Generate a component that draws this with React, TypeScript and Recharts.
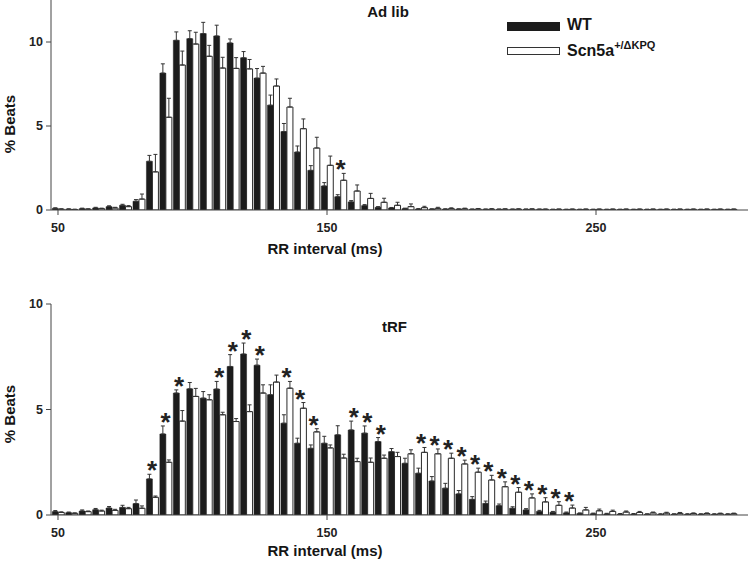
import React from 'react';
import { ComposedChart, Bar, Line, XAxis, YAxis, ErrorBar, Legend } from 'recharts';

const FONT = '"Liberation Sans", Arial, Helvetica, sans-serif';

// RR interval bins (ms)
const bins = [
  50, 55, 60, 65, 70, 75, 80, 85, 90, 95,
  100, 105, 110, 115, 120, 125, 130, 135, 140, 145,
  150, 155, 160, 165, 170, 175, 180, 185, 190, 195,
  200, 205, 210, 215, 220, 225, 230, 235, 240, 245,
  250, 255, 260, 265, 270, 275, 280, 285, 290, 295,
  300,
];

// Ad lib panel
const adLibWT = [
  0.10, 0.05, 0.08, 0.12, 0.20, 0.28, 0.52, 2.90, 8.15, 10.1,
  10.2, 10.5, 10.36, 9.94, 9.06, 7.85, 6.24, 4.67, 3.45, 2.36,
  1.43, 0.79, 0.48, 0.26, 0.16, 0.12, 0.08, 0.06, 0.05, 0.05,
  0.05, 0.04, 0.04, 0.04, 0.04, 0.04, 0.04, 0.03, 0.03, 0.03,
  0.03, 0.03, 0.03, 0.03, 0.03, 0.03, 0.03, 0.03, 0.03, 0.03,
  0.03,
];
const adLibWTErr = [
  0.03, 0.02, 0.03, 0.04, 0.05, 0.06, 0.10, 0.35, 0.55, 0.50,
  0.47, 0.67, 0.64, 0.24, 0.37, 0.57, 0.60, 0.48, 0.36, 0.28,
  0.20, 0.12, 0.08, 0.06, 0.04, 0.03, 0.03, 0.02, 0.02, 0.02,
  0.02, 0.02, 0.02, 0.02, 0.02, 0.02, 0.02, 0.02, 0.02, 0.02,
  0.02, 0.02, 0.02, 0.02, 0.02, 0.02, 0.02, 0.02, 0.02, 0.02,
  0.02,
];
const adLibKO = [
  0.05, 0.03, 0.05, 0.08, 0.12, 0.20, 0.65, 2.27, 5.52, 8.63,
  9.88, 9.15, 8.45, 8.43, 8.40, 8.15, 7.38, 6.13, 4.84, 3.69,
  2.66, 1.77, 1.13, 0.69, 0.46, 0.28, 0.20, 0.14, 0.10, 0.08,
  0.07, 0.06, 0.05, 0.05, 0.05, 0.05, 0.04, 0.04, 0.04, 0.04,
  0.04, 0.04, 0.04, 0.04, 0.04, 0.04, 0.04, 0.04, 0.04, 0.04,
  0.04,
];
const adLibKOErr = [
  0.02, 0.02, 0.02, 0.03, 0.04, 0.06, 0.30, 1.04, 1.13, 0.83,
  0.70, 0.65, 0.64, 0.64, 0.56, 0.40, 0.42, 0.52, 0.58, 0.64,
  0.55, 0.41, 0.36, 0.30, 0.24, 0.18, 0.16, 0.08, 0.06, 0.05,
  0.04, 0.03, 0.03, 0.02, 0.02, 0.02, 0.02, 0.02, 0.02, 0.02,
  0.02, 0.02, 0.02, 0.02, 0.02, 0.02, 0.02, 0.02, 0.02, 0.02,
  0.02,
];
const adLibSig = [155];

// tRF panel
const trfWT = [
  0.16, 0.11, 0.19, 0.25, 0.33, 0.36, 0.54, 1.71, 3.84, 5.78,
  5.98, 5.54, 5.97, 7.04, 7.63, 7.10, 5.70, 4.35, 3.40, 3.16,
  3.40, 3.80, 4.03, 3.88, 3.48, 3.00, 2.45, 1.98, 1.61, 1.27,
  1.00, 0.74, 0.55, 0.44, 0.32, 0.24, 0.17, 0.13, 0.10, 0.07,
  0.06, 0.05, 0.04, 0.04, 0.03, 0.03, 0.03, 0.03, 0.03, 0.03,
  0.03,
];
const trfWTErr = [
  0.05, 0.03, 0.05, 0.06, 0.07, 0.10, 0.17, 0.22, 0.38, 0.15,
  0.30, 0.31, 0.36, 0.56, 0.52, 0.29, 0.47, 0.40, 0.24, 0.16,
  0.33, 0.43, 0.42, 0.34, 0.19, 0.15, 0.24, 0.24, 0.21, 0.23,
  0.16, 0.13, 0.11, 0.08, 0.07, 0.06, 0.05, 0.04, 0.04, 0.03,
  0.03, 0.03, 0.03, 0.03, 0.03, 0.03, 0.03, 0.03, 0.03, 0.03,
  0.03,
];
const trfKO = [
  0.12, 0.08, 0.16, 0.19, 0.22, 0.30, 0.32, 0.84, 2.50, 4.45,
  5.62, 5.46, 4.75, 4.43, 4.90, 5.78, 6.30, 6.01, 5.06, 3.94,
  3.18, 2.70, 2.53, 2.50, 2.69, 2.77, 2.90, 2.97, 2.90, 2.69,
  2.42, 2.03, 1.66, 1.34, 1.08, 0.81, 0.62, 0.46, 0.33, 0.24,
  0.20, 0.17, 0.14, 0.12, 0.10, 0.09, 0.08, 0.07, 0.07, 0.06,
  0.06,
];
const trfKOErr = [
  0.03, 0.02, 0.03, 0.04, 0.05, 0.06, 0.11, 0.06, 0.11, 0.50,
  0.38, 0.24, 0.12, 0.14, 0.32, 0.39, 0.33, 0.32, 0.27, 0.15,
  0.14, 0.18, 0.16, 0.20, 0.15, 0.20, 0.19, 0.23, 0.23, 0.24,
  0.18, 0.19, 0.22, 0.23, 0.22, 0.19, 0.20, 0.17, 0.14, 0.12,
  0.08, 0.06, 0.05, 0.05, 0.04, 0.04, 0.04, 0.03, 0.03, 0.03,
  0.03,
];
const trfSig = [
  85, 90, 95, 110, 115, 120, 125, 135, 140, 145, 160, 165, 170,
  185, 190, 195, 200, 205, 210, 215, 220, 225, 230, 235, 240,
];

const xTicks = [50, 150, 250];

const buildRows = (wt: number[], wtErr: number[], ko: number[], koErr: number[], sig: number[]) =>
  bins.map((bin, i) => ({
    bin,
    wt: wt[i],
    ko: ko[i],
    wtE: [0, wtErr[i]],
    koE: [0, koErr[i]],
    star: sig.includes(bin) ? Math.max(wt[i] + wtErr[i], ko[i] + koErr[i]) : null,
  }));

const Star = (props: any) => {
  const { cx, cy, payload, index } = props;
  if (!payload || payload.star == null || cy == null) return <g key={`st${index}`} />;
  return (
    <text key={`st${index}`} x={cx} y={cy + 5} textAnchor="middle" fontSize={26}
      fontWeight="bold" fontFamily={FONT} fill="#222">*</text>
  );
};

const LegendBox = () => (
  <div style={{ position: 'relative', width: 180, height: 45, fontFamily: FONT, fontWeight: 'bold', color: '#151515' }}>
    <div style={{ position: 'absolute', left: 0, top: 8, width: 53, height: 9, background: '#1c1c1c' }} />
    <div style={{ position: 'absolute', left: 60, top: 2, fontSize: 16, lineHeight: '18px', whiteSpace: 'nowrap' }}>WT</div>
    <div style={{ position: 'absolute', left: 0, top: 33, width: 51, height: 6, border: '1px solid #333', background: '#fff' }} />
    <div style={{ position: 'absolute', left: 60, top: 28, fontSize: 16, lineHeight: '18px', whiteSpace: 'nowrap' }}>
      Scn5a<span style={{ fontSize: 11, position: 'relative', top: -7 }}>+/ΔKPQ</span>
    </div>
  </div>
);

type PanelProps = {
  rows: any[];
  height: number;
  top: number;
  yMax: number;
  yTicks: number[];
  xAxisHeight: number;
  legend?: boolean;
};

const Panel = ({ rows, height, top, yMax, yTicks, xAxisHeight, legend }: PanelProps) => (
  <ComposedChart width={749} height={height} data={rows} barGap={0} barSize={6}
    margin={{ top, right: 1, bottom: 0, left: 0 }}>
    <XAxis type="number" dataKey="bin" domain={[47.4, 306.5]} ticks={xTicks} interval={0}
      allowDataOverflow height={xAxisHeight} tickSize={5} tickMargin={8}
      stroke="#444" tick={{ fill: '#222', fontSize: 12.5, fontWeight: 'bold', fontFamily: FONT }} />
    <YAxis type="number" domain={[0, yMax]} ticks={yTicks} interval={0} allowDataOverflow
      width={51} tickSize={5} tickMargin={3}
      stroke="#444" tick={{ fill: '#222', fontSize: 12.5, fontWeight: 'bold', fontFamily: FONT }} />
    {legend && (
      <Legend layout="vertical" align="center" verticalAlign="middle" content={() => <LegendBox />}
        wrapperStyle={{ left: 507, top: 14, width: 180 }} />
    )}
    <Bar dataKey="wt" name="WT" fill="#1c1c1c" stroke="#1c1c1c" strokeWidth={0.5} isAnimationActive={false}>
      <ErrorBar dataKey="wtE" width={2} stroke="#333" strokeWidth={1} direction="y" />
    </Bar>
    <Bar dataKey="ko" name="Scn5a+/ΔKPQ" fill="#ffffff" stroke="#2a2a2a" strokeWidth={1} isAnimationActive={false}>
      <ErrorBar dataKey="koE" width={2} stroke="#333" strokeWidth={1} direction="y" />
    </Bar>
    <Line dataKey="star" stroke="none" dot={Star} activeDot={false} legendType="none"
      connectNulls={false} isAnimationActive={false} />
  </ComposedChart>
);

const txt = { fontFamily: FONT, fontWeight: 'bold' as const, fill: '#151515' };

export default function App() {
  const adLibRows = buildRows(adLibWT, adLibWTErr, adLibKO, adLibKOErr, adLibSig);
  const trfRows = buildRows(trfWT, trfWTErr, trfKO, trfKOErr, trfSig);
  return (
    <div style={{ position: 'relative', width: 749, height: 564, background: '#fff', overflow: 'hidden' }}>
      <style>{'body{margin:0}'}</style>
      <div style={{ position: 'absolute', left: 0, top: 0 }}>
        <Panel rows={adLibRows} height={260} top={0} yMax={12.5} yTicks={[0, 5, 10]} xAxisHeight={50} legend />
      </div>
      <div style={{ position: 'absolute', left: 0, top: 260 }}>
        <Panel rows={trfRows} height={304} top={44} yMax={10} yTicks={[0, 5, 10]} xAxisHeight={49} />
      </div>
      <svg width={749} height={564} style={{ position: 'absolute', left: 0, top: 0, pointerEvents: 'none' }}>
        <text x={388} y={17} textAnchor="middle" fontSize={15} {...txt}>Ad lib</text>
        <text x={394.5} y={332} textAnchor="middle" fontSize={15} {...txt}>tRF</text>
        <text x={15} y={124} textAnchor="middle" fontSize={15} transform="rotate(-90, 15, 124)" {...txt}>% Beats</text>
        <text x={15} y={414} textAnchor="middle" fontSize={15} transform="rotate(-90, 15, 414)" {...txt}>% Beats</text>
        <text x={325} y={254} textAnchor="middle" fontSize={15} {...txt}>RR interval (ms)</text>
        <text x={325} y={556} textAnchor="middle" fontSize={15} {...txt}>RR interval (ms)</text>
      </svg>
    </div>
  );
}
